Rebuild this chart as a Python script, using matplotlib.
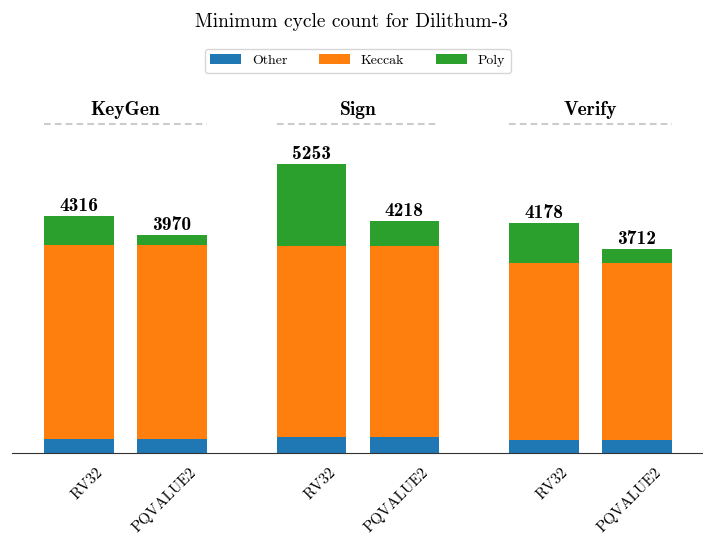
import matplotlib.pyplot as plt
import matplotlib.transforms as mtransforms
import numpy as np

plt.rcParams['font.family'] = 'cmr10'
plt.rcParams['axes.unicode_minus'] = False
plt.rcParams['axes.formatter.use_mathtext'] = True

groups = ["KeyGen", "Sign", "Verify"]
impls = ["RV32", "PQVALUE2"]
other = [255, 255, 297, 297, 243, 243]
keccak = [3535, 3535, 3476, 3476, 3220, 3220]
totals = [4316, 3970, 5253, 4218, 4178, 3712]
poly = [t - o - k for t, o, k in zip(totals, other, keccak)]

pos = np.array([0, 1, 2.5, 3.5, 5, 6])
w = 0.75

fig = plt.figure(figsize=(7.03, 5.38), dpi=100)
ax = fig.add_axes([0.017, 0.158, 0.983, 0.664])

ax.bar(pos, other, w, color='#1f77b4', label='Other')
ax.bar(pos, keccak, w, bottom=other, color='#ff7f0e', label='Keccak')
ax.bar(pos, poly, w, bottom=np.array(other) + np.array(keccak), color='#2ca02c', label='Poly')

for x, t in zip(pos, totals):
    ax.text(x, t + 20, str(t), ha='center', va='bottom', family='cmb10', fontsize=14)

for i, g in enumerate(groups):
    x0 = pos[2 * i] - w / 2
    x1 = pos[2 * i + 1] + w / 2
    ax.plot([x0, x1], [5980, 5980], ls='--', color='#cccccc', lw=1.5, dashes=(3.2, 2.0))
    ax.text((x0 + x1) / 2, 6080, g, ha='center', va='bottom', family='cmb10', fontsize=14)

ax.set_xlim(-0.72, 6.71)
ax.set_ylim(0, 6500)
ax.set_xticks(pos)
ax.set_xticklabels(impls * 3, rotation=45, ha='right', rotation_mode='anchor', fontsize=11)
ax.tick_params(axis='x', length=0, pad=12)
shift = mtransforms.ScaledTranslation(0.17, 0.04, fig.dpi_scale_trans)
for lbl in ax.get_xticklabels():
    lbl.set_transform(lbl.get_transform() + shift)
ax.set_yticks([])
for s in ['top', 'right', 'left']:
    ax.spines[s].set_visible(False)
ax.spines['bottom'].set_color('#333333')

ax.legend(loc='center', bbox_to_anchor=(0.5007, 1.098), ncol=3, fontsize=10,
          handlelength=2.2, columnspacing=2.3, borderpad=0.4)
fig.text(0.5, 0.96, 'Minimum cycle count for Dilithum-3', ha='center', va='center', fontsize=14)

fig.savefig('out.png', dpi=100)
